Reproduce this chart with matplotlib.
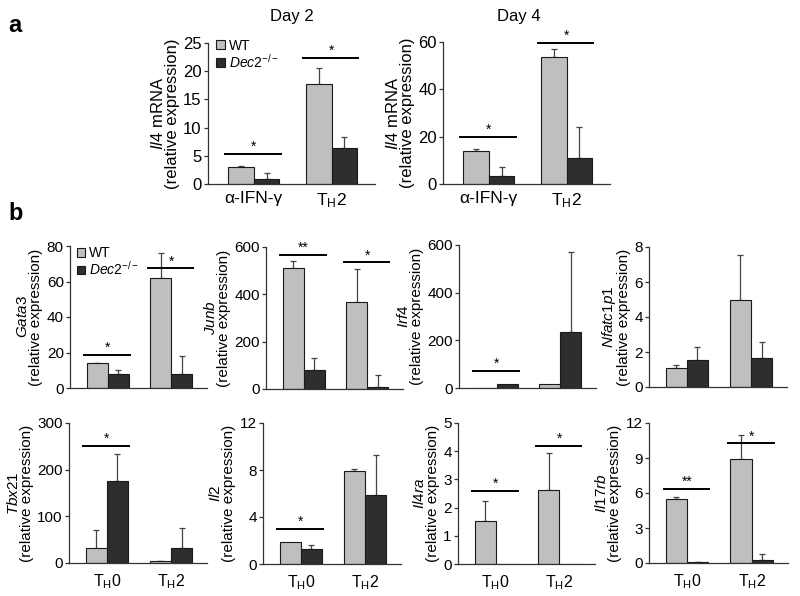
import matplotlib
matplotlib.use("Agg")
import matplotlib.pyplot as plt
from matplotlib.patches import Patch
import numpy as np

plt.rcParams['font.family'] = 'Liberation Sans'
plt.rcParams['mathtext.fontset'] = 'custom'
plt.rcParams['mathtext.rm'] = 'Liberation Sans'
plt.rcParams['mathtext.it'] = 'Liberation Sans:italic'
plt.rcParams['mathtext.bf'] = 'Liberation Sans:bold'

# --- DATA ---
# panel a : Il4 mRNA, day 2 and day 4
a_groups = ['α-IFN-γ', r'T$_{\rm H}$2']
day2_wt = [3.1, 17.7]
day2_wt_err = [0.15, 2.9]
day2_ko = [0.8, 6.4]
day2_ko_err = [1.2, 2.0]
day2_sig = [(0, 5.3, '*'), (1, 22.3, '*')]
day2_ticks = [0, 5, 10, 15, 20, 25]

day4_wt = [13.8, 53.8]
day4_wt_err = [1.0, 3.2]
day4_ko = [3.5, 11.0]
day4_ko_err = [3.5, 13.0]
day4_sig = [(0, 20.0, '*'), (1, 59.6, '*')]
day4_ticks = [0, 20, 40, 60]

# panel b : genes, TH0 / TH2
b_groups = [r'T$_{\rm H}$0', r'T$_{\rm H}$2']
b_genes = ['Gata3', 'Junb', 'Irf4', 'Nfatc1p1', 'Tbx21', 'Il2', 'Il4ra', 'Il17rb']
b_wt = [[14, 62], [513, 368], [1, 18], [1.1, 5.0],
        [32, 4], [1.9, 7.9], [1.52, 2.63], [5.5, 8.95]]
b_wt_err = [[0.3, 14], [27, 139], [0, 0], [0.15, 2.55],
            [38, 1], [0, 0.15], [0.71, 1.3], [0.15, 2.05]]
b_ko = [[8, 8], [80, 8], [15, 237], [1.55, 1.65],
        [176, 32], [1.25, 5.9], [0, 0], [0.08, 0.3]]
b_ko_err = [[2, 10], [50, 52], [0, 333], [0.75, 0.95],
            [57, 43], [0.35, 3.35], [0, 0], [0.04, 0.45]]
b_ticks = [[0, 20, 40, 60, 80], [0, 200, 400, 600], [0, 200, 400, 600], [0, 2, 4, 6, 8],
           [0, 100, 200, 300], [0, 4, 8, 12], [0, 1, 2, 3, 4, 5], [0, 3, 6, 9, 12]]
b_sig = [[(0, 18.6, '*'), (1, 67.4, '*')],
         [(0, 566, '**'), (1, 535, '*')],
         [(0, 73, '*')],
         [],
         [(0, 251, '*')],
         [(0, 3.0, '*')],
         [(0, 2.6, '*'), (1, 4.2, '*')],
         [(0, 6.35, '**'), (1, 10.25, '*')]]

WT_COLOR = '#bfbfbf'
KO_COLOR = '#2e2e2e'
EDGE = '#1a1a1a'
W, H = 800, 596

fig = plt.figure(figsize=(8, 5.96), dpi=100)


def px_axes(left, top, width, height):
    return fig.add_axes([left / W, 1 - (top + height) / H, width / W, height / H])


def draw_panel(ax, wt, wt_err, ko, ko_err, ticks, sig, xlabels, ylab, fs, xfs, xpad):
    x = np.arange(len(wt))
    bw = 0.33
    ax.bar(x - bw / 2, wt, bw, color=WT_COLOR, edgecolor=EDGE, linewidth=0.8, zorder=2)
    ax.bar(x + bw / 2, ko, bw, color=KO_COLOR, edgecolor=EDGE, linewidth=0.8, zorder=2)
    for xs, m, e in [(x - bw / 2, wt, wt_err), (x + bw / 2, ko, ko_err)]:
        for xi, mi, ei in zip(xs, m, e):
            if ei > 0:
                ax.errorbar(xi, mi, yerr=[[0], [ei]], fmt='none', ecolor='#444444',
                            elinewidth=0.9, capsize=2.5, capthick=0.9, zorder=1)
    for g, h, lab in sig:
        ax.plot([g - 0.38, g + 0.36], [h, h], color='black', lw=1.4, zorder=3,
                solid_capstyle='butt', clip_on=False)
        ax.text(g, h, lab, ha='center', va='bottom', fontsize=10)
    ax.set_xlim(-0.59, 1.56)
    ax.set_ylim(0, ticks[-1])
    ax.set_yticks(ticks)
    ax.set_xticks(x)
    ax.set_xticklabels(xlabels if xlabels else ['', ''], fontsize=xfs)
    for s in ['top', 'right']:
        ax.spines[s].set_visible(False)
    for s in ['left', 'bottom']:
        ax.spines[s].set_linewidth(0.9)
        ax.spines[s].set_color('#333333')
    ax.tick_params(axis='y', length=3, width=0.9, labelsize=fs, pad=1.5, color='#333333')
    ax.tick_params(axis='x', length=0, pad=xpad)
    ax.set_ylabel(ylab, fontsize=fs, linespacing=0.92, labelpad=2.5)


def add_legend(ax, y_anchor):
    handles = [Patch(facecolor=WT_COLOR, edgecolor=EDGE, linewidth=0.8, label='WT'),
               Patch(facecolor=KO_COLOR, edgecolor=EDGE, linewidth=0.8,
                     label=r'$\mathit{Dec2}^{-/-}$')]
    ax.legend(handles=handles, loc='upper left', bbox_to_anchor=(0.05, y_anchor),
              frameon=False, fontsize=10, handlelength=0.6, handleheight=0.6,
              handletextpad=0.3, labelspacing=0.0, borderpad=0, borderaxespad=0)


# ---- panel a ----
ax = px_axes(208, 43, 167, 141)
draw_panel(ax, day2_wt, day2_wt_err, day2_ko, day2_ko_err, day2_ticks, day2_sig,
           a_groups, '$\\mathit{Il4}$ mRNA\n(relative expression)', 12, 12.5, 5)
add_legend(ax, 1.03)
fig.text(292 / W, 1 - 16 / H, 'Day 2', ha='center', va='center', fontsize=12)

ax = px_axes(443, 42, 167, 142)
draw_panel(ax, day4_wt, day4_wt_err, day4_ko, day4_ko_err, day4_ticks, day4_sig,
           a_groups, '$\\mathit{Il4}$ mRNA\n(relative expression)', 12, 12.5, 5)
fig.text(519 / W, 1 - 16 / H, 'Day 4', ha='center', va='center', fontsize=12)

# ---- panel b ----
b_rects = [(70, 246, 137, 142), (266, 247, 137, 142), (459, 245, 137, 143), (649, 247, 138, 140),
           (69, 423, 138, 140), (263, 423, 138, 141), (458, 423, 137, 141), (649, 423, 139, 140)]
for i, gene in enumerate(b_genes):
    ax = px_axes(*b_rects[i])
    xl = b_groups if i >= 4 else None
    draw_panel(ax, b_wt[i], b_wt_err[i], b_ko[i], b_ko_err[i], b_ticks[i], b_sig[i],
               xl, '$\\mathit{' + gene + '}$\n(relative expression)', 11, 11.5, 7)
    if i == 0:
        add_legend(ax, 1.0)

fig.text(15 / W, 1 - 26 / H, 'a', ha='center', va='center', fontsize=17, fontweight='bold')
fig.text(16 / W, 1 - 213 / H, 'b', ha='center', va='center', fontsize=17, fontweight='bold')

fig.savefig('out.png', dpi=100)
